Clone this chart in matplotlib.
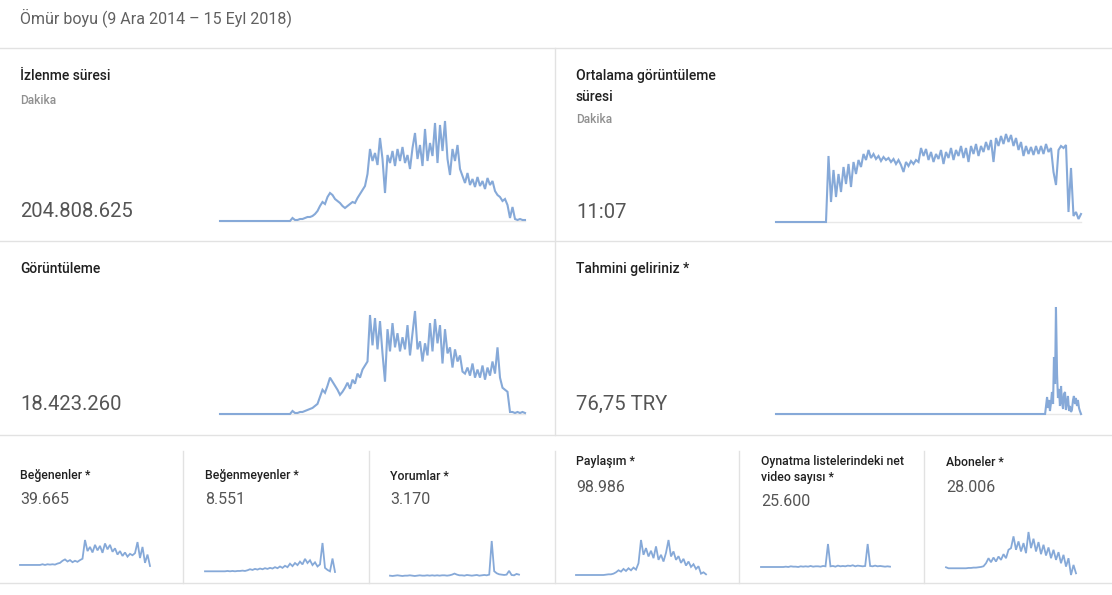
import numpy as np
from matplotlib import pyplot as plt
from matplotlib.lines import Line2D

W, H = 1112, 595
TOTAL_DAYS = 1376  # 9 Ara 2014 - 15 Eyl 2018

header = 'Ömür boyu (9 Ara 2014 – 15 Eyl 2018)'

# big cards
big_titles = ['İzlenme süresi', 'Ortalama görüntüleme\nsüresi', 'Görüntüleme', 'Tahmini geliriniz *']
big_units = ['Dakika', 'Dakika', '', '']
big_values = ['204.808.625', '11:07', '18.423.260', '76,75 TRY']

watch_time = [0, 0, 0, 0, 0, 0, 0, 0, 0, 0, 0, 0, 0, 0, 0, 0, 0, 0, 0, 0,
              0, 0, 0, 0, 0, 0, 0, 0, 0, 3, 1, 1, 2, 2, 3, 4, 4, 5, 7, 10,
              15, 19, 17, 24, 28, 26, 22, 20, 18, 15, 13, 15, 17, 19, 18, 23, 27, 31, 35, 47,
              72, 60, 68, 56, 83, 62, 28, 66, 58, 70, 55, 72, 60, 74, 58, 66, 52, 73, 88, 62,
              76, 55, 92, 60, 78, 65, 98, 58, 96, 70, 100, 62, 46, 72, 60, 76, 52, 45, 38, 48,
              36, 42, 34, 44, 35, 40, 32, 43, 36, 40, 30, 26, 24, 20, 22, 16, 3, 14, 2, 1,
              2, 1, 1]

avg_duration = [0, 0, 0, 0, 0, 0, 0, 0, 0, 0, 0, 0, 0, 0, 0, 0, 0, 0, 0, 0,
                0, 66, 20, 52, 25, 48, 30, 55, 38, 58, 35, 60, 48, 62, 55, 68, 62, 72, 64, 68,
                63, 66, 61, 65, 62, 64, 60, 63, 58, 62, 57, 50, 60, 56, 61, 58, 62, 60, 74, 66,
                73, 62, 70, 60, 68, 63, 72, 58, 70, 64, 74, 62, 72, 66, 76, 64, 74, 60, 76, 68,
                78, 66, 76, 70, 80, 72, 82, 60, 84, 76, 86, 78, 88, 80, 87, 76, 84, 72, 80, 66,
                76, 68, 75, 67, 76, 68, 76, 68, 78, 70, 74, 50, 37, 72, 76, 74, 77, 10, 54, 6,
                10, 3, 8]

views = [0, 0, 0, 0, 0, 0, 0, 0, 0, 0, 0, 0, 0, 0, 0, 0, 0, 0, 0, 0,
         0, 0, 0, 0, 0, 0, 0, 0, 0, 3, 1, 1, 2, 2, 3, 4, 5, 6, 8, 10,
         17, 24, 21, 28, 36, 32, 28, 24, 19, 22, 26, 31, 25, 34, 30, 40, 36, 44, 48, 52,
         98, 68, 95, 64, 92, 60, 32, 84, 62, 90, 66, 80, 62, 76, 64, 88, 58, 80, 102, 64,
         72, 52, 70, 58, 90, 62, 94, 70, 88, 50, 84, 60, 66, 46, 64, 52, 58, 42, 40, 46,
         38, 50, 36, 44, 36, 48, 34, 46, 38, 52, 40, 66, 36, 26, 24, 22, 2, 2, 1, 2,
         1, 2, 1]

revenue_days = [0, 1214, 1223, 1227, 1232, 1236, 1241, 1245, 1250, 1254, 1259, 1263, 1268,
                1272, 1277, 1281, 1286, 1290, 1295, 1299, 1304, 1308, 1313, 1317, 1322,
                1326, 1331, 1335, 1340, 1344, 1349, 1353, 1358, 1362, 1367, 1371, 1376]
revenue = [0, 0, 17, 6, 14, 3, 12, 22, 10, 57, 30, 107, 40,
           16, 25, 8, 28, 12, 5, 20, 22, 4, 12, 18, 3,
           8, 2, 4, 14, 18, 10, 16, 8, 14, 6, 3, 0]

# small cards
small_titles = ['Beğenenler *', 'Beğenmeyenler *', 'Yorumlar *', 'Paylaşım *',
                'Oynatma listelerindeki net\nvideo sayısı *', 'Aboneler *']
small_values = ['39.665', '8.551', '3.170', '98.986', '25.600', '28.006']

likes = [0, 0, 0, 0, 0, 0, 0, 0, 0, 2, 0, 2, 1, 2, 1, 4, 6, 12, 16, 10,
         14, 8, 12, 9, 14, 18, 72, 40, 52, 36, 58, 42, 55, 35, 62, 45, 58, 38, 48, 30,
         40, 26, 36, 24, 32, 28, 34, 66, 20, 52, 6, 30, -3]
dislikes = [0, 0, 0, 0, 0, 0, 0, 0, 0, 1, 0, 1, 0, 1, 1, 2, 1, 3, 6, 4,
            7, 5, 8, 6, 9, 7, 10, 8, 12, 9, 14, 10, 16, 12, 22, 15, 24, 18, 28, 20,
            36, 24, 32, 18, 26, 14, 20, 82, 10, 4, 0, 37, -2]
comments = [1, 0, 1, 2, 1, 0, 1, 1, 2, 1, 0, 1, 2, 1, 1, 2, 1, 2, 1, 2,
            1, 2, 2, 1, 2, 4, 7, 4, 2, 2, 1, 3, 2, 1, 2, 3, 1, 2, 3, 2,
            4, 102, 14, 8, 5, 4, 3, 4, 15, 3, 2, 6, 4]
shares = [0, 0, 0, 0, 0, 0, 0, 0, 0, 0, 0, 0, 1, 2, 2, 4, 8, 14, 10, 18,
          12, 20, 14, 22, 16, 35, 104, 60, 80, 55, 72, 50, 85, 45, 60, 40, 66, 104, 55, 70,
          45, 56, 36, 48, 28, 40, 24, 32, 18, 26, 4, 8, 2]
playlists = [0, 0, 0, 0, 0, 0, 0, 0, 0, 0, 1, 0, 2, 1, 1, 0, 2, 1, 2, 1,
             3, 1, 2, 2, 1, 3, 2, 67, 2, 3, 1, 4, 2, 3, 2, 4, 3, 5, 2, 4,
             3, 2, 3, 67, 3, 2, 4, 2, 3, 2, 1, 2, 1]
subscribers = [3, 0, 0, 0, 0, 0, 0, 0, 0, 1, 1, 2, 2, 3, 4, 6, 15, 30, 18, 32,
               20, 35, 25, 42, 30, 55, 60, 95, 55, 80, 50, 75, 45, 108, 60, 88, 50, 78, 42, 70,
               38, 62, 30, 55, 25, 48, 15, 40, 5, 30, -20, 10, -15]

LINE = '#86a9d8'
GRID = '#e2e2e2'
plt.rcParams['font.family'] = ['Roboto', 'DejaVu Sans']

fig = plt.figure(figsize=(W / 100, H / 100), dpi=100)


def txt(x, y, s, size, color, weight='normal', **kw):
    fig.text(x / W, 1 - y / H, s, fontsize=size, color=color, fontweight=weight,
             ha='left', va='center', **kw)


def line(xs, ys, color=GRID, lw=1.0):
    fig.add_artist(Line2D([x / W for x in xs], [1 - y / H for y in ys], color=color, lw=lw))


def spark(x0, x1, y_low, y_high, days, vals, base=None, lw=1.5):
    ax = fig.add_axes([x0 / W, 1 - y_low / H, (x1 - x0) / W, (y_low - y_high) / H])
    ax.plot(days, vals, color=LINE, lw=lw, clip_on=False, solid_joinstyle='miter')
    ax.set_xlim(0, TOTAL_DAYS)
    ax.set_ylim(min(vals), max(vals))
    ax.axis('off')
    if base is not None:
        line([x0, x1], [base, base], color='#e8e8e8', lw=1.0)
        ax.set_zorder(2)
    return ax


def days_for(vals):
    return np.linspace(0, TOTAL_DAYS, len(vals))


# header and grid lines
txt(20, 18, header, 11.5, '#606060')
for y in [48, 241, 435, 583]:
    line([0, W], [y, y])
line([555, 555], [48, 435])
for x in [183, 369, 555, 739, 924]:
    line([x, x], [451, 583])

# big cards
txt(20, 76, big_titles[0], 10, '#202020', 'medium')
txt(20, 100, big_units[0], 8.6, '#909090', 'medium')
txt(20, 211, big_values[0], 14.6, '#555555')

txt(576, 86.5, big_titles[1], 10, '#202020', 'medium', linespacing=1.55)
txt(576, 120, big_units[1], 8.6, '#909090', 'medium')
txt(576, 212, big_values[1], 14.6, '#555555')

txt(20, 269, big_titles[2], 10, '#202020', 'medium')
txt(20, 404, big_values[2], 14.6, '#555555')

txt(576, 269, big_titles[3], 10, '#202020', 'medium')
txt(576, 404, big_values[3], 14.6, '#555555')

spark(220, 525, 221, 121, days_for(watch_time), watch_time, base=221)
spark(776, 1081, 222, 134, days_for(avg_duration), avg_duration, base=222)
spark(220, 525, 414, 311, days_for(views), views, base=414)
spark(776, 1081, 414, 307, revenue_days, revenue, base=414)

# small cards
small_x = [20, 205, 390, 576, 761, 946]
small_title_y = [476, 476, 476, 462, 469, 462]
small_value_y = [500, 500, 500, 487, 501, 487]
for i in range(6):
    txt(small_x[i], small_title_y[i], small_titles[i], 8.8, '#202020', 'medium', linespacing=1.3)
    txt(small_x[i], small_value_y[i], small_values[i], 11.5, '#555555')

small_series = [likes, dislikes, comments, shares, playlists, subscribers]
small_box = [(20, 150, 566, 540), (205, 335, 572, 543), (390, 519, 576, 541),
             (576, 706, 575, 540), (761, 890, 567, 544), (946, 1076, 575, 532)]
for vals, (x0, x1, yl, yh) in zip(small_series, small_box):
    spark(x0, x1, yl, yh, days_for(vals), vals, lw=1.3)

fig.savefig('out.png', dpi=100, facecolor='white')
